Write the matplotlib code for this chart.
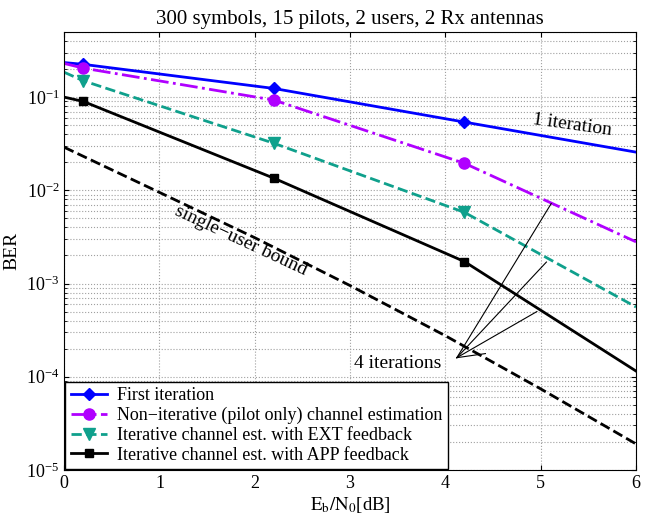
import numpy as np
import matplotlib
matplotlib.use('Agg')
import matplotlib.pyplot as plt

plt.rcParams['font.family'] = ['Liberation Serif', 'DejaVu Serif']
plt.rcParams['mathtext.fontset'] = 'stix'

# Eb/N0 grid (dB); markers sit at 0.2, 2.2, 4.2
snr = [0, 0.2, 2.2, 4.2, 6]
mark_idx = [1, 2, 3]

ber_first = [0.235, 0.225, 0.124, 0.054, 0.0257]
ber_pilot = [0.23, 0.205, 0.093, 0.0195, 0.0028]
ber_ext = [0.185, 0.15, 0.032, 0.0058, 0.00056]
ber_app = [0.1, 0.09, 0.0135, 0.00172, 0.000115]

snr_bound = [0, 1, 2, 3, 4, 5, 6]
ber_bound = [0.029, 0.0095, 0.0031, 0.00095, 0.000275, 0.000074, 0.000019]

labels = ['First iteration',
          'Non\u2212iterative (pilot only) channel estimation',
          'Iterative channel est. with EXT feedback',
          'Iterative channel est. with APP feedback']

fig = plt.figure(figsize=(6.55, 5.25), dpi=100)
ax = fig.add_axes([0.098, 0.105, 0.873, 0.834])

ax.semilogy(snr, ber_first, '-', color='#0000ff', lw=2, marker='D', ms=6,
            markevery=mark_idx, label=labels[0])
ax.semilogy(snr, ber_pilot, '-.', color='#b000ff', lw=2, marker='o', ms=8,
            markevery=mark_idx, label=labels[1])
ax.semilogy(snr, ber_ext, '--', color='#0fa08c', lw=2, marker='v', ms=8,
            markevery=mark_idx, label=labels[2])
ax.semilogy(snr, ber_app, '-', color='black', lw=2, marker='s', ms=6,
            markevery=mark_idx, label=labels[3])
ax.semilogy(snr_bound, ber_bound, '--', color='black', lw=2)

ax.set_xlim(0, 6)
ax.set_ylim(1e-5, 0.5)
ax.grid(True, which='major', linestyle=':', color='#a0a0a0', lw=0.8)
ax.grid(True, which='minor', axis='y', linestyle=':', color='#a0a0a0', lw=0.8)
ax.tick_params(which='both', direction='in', labelsize=13, top=True, right=True)

ax.set_title('300 symbols, 15 pilots, 2 users, 2 Rx antennas', fontsize=15)
ax.set_xlabel(r'$\mathrm{E_b/N_0}$[dB]', fontsize=13.5, labelpad=2)
ax.set_ylabel('BER', fontsize=14)

# annotations
ax.text(5.33, 0.05, '1 iteration', fontsize=14, rotation=-8, ha='center', va='center')
ax.text(1.85, 2.9e-3, 'single\u2212user bound', fontsize=14, rotation=-25,
        ha='center', va='center')
ax.text(3.5, 1.4e-4, '4 iterations', fontsize=14, ha='center', va='center')
tip = (4.12, 1.6e-4)
for end in [(5.11, 7.2e-3), (5.06, 1.7e-3), (4.96, 5.0e-4), (4.42, 1.77e-4)]:
    ax.plot([tip[0], end[0]], [tip[1], end[1]], color='black', lw=0.8)

leg = ax.legend(loc='lower left', fontsize=13, fancybox=False, framealpha=1,
                edgecolor='black', borderaxespad=0.05, handlelength=2,
                labelspacing=0.15, borderpad=0.3, handletextpad=0.6)
leg.get_frame().set_linewidth(1.0)

fig.savefig('out.png', dpi=100)
